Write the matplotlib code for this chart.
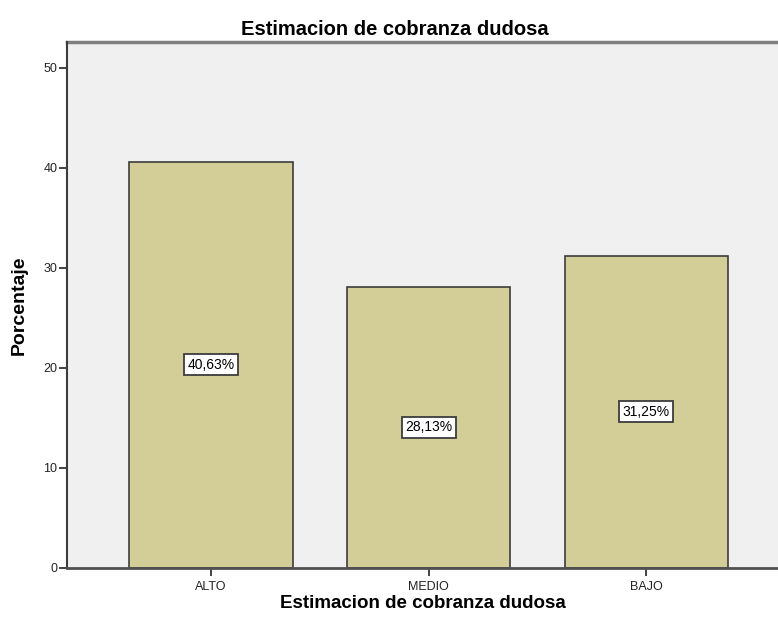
import matplotlib.pyplot as plt

plt.rcParams['font.family'] = ['Liberation Sans', 'DejaVu Sans']

categorias = ['ALTO', 'MEDIO', 'BAJO']
porcentajes = [40.63, 28.13, 31.25]
etiquetas = ['40,63%', '28,13%', '31,25%']

fig = plt.figure(figsize=(7.78, 6.24), dpi=100)
ax = fig.add_axes([67 / 778, 56 / 624, 1 - 67 / 778, (568 - 42) / 624])
ax.set_facecolor('#f0f0f0')

x = range(len(categorias))
ax.bar(x, porcentajes, width=0.75, color='#d3ce97', edgecolor='#3c3c3c', linewidth=1.2, zorder=2)

# etiquetas de porcentaje en el centro de cada barra
for i, v in enumerate(porcentajes):
    ax.text(i, v / 2, etiquetas[i], ha='center', va='center', fontsize=10, zorder=3,
            bbox=dict(boxstyle='square,pad=0.25', facecolor='white', edgecolor='#3c3c3c', linewidth=1.3))

ax.set_xlim(-0.662, 2.605)
ax.set_ylim(0, 52.6)
ax.set_yticks([0, 10, 20, 30, 40, 50])
ax.set_xticks(list(x))
ax.set_xticklabels(categorias)
ax.tick_params(axis='both', labelsize=9, colors='#222222', width=1.2, length=6)
ax.tick_params(axis='y', pad=1)

for lado in ['top', 'right']:
    ax.spines[lado].set_visible(False)
ax.spines['left'].set_color('#3c3c3c')
ax.spines['left'].set_linewidth(1.5)
ax.spines['bottom'].set_color('#505050')
ax.spines['bottom'].set_linewidth(2)
ax.axhline(52.6, color='#808080', linewidth=2.5, clip_on=False)

ax.set_title('Estimacion de cobranza dudosa', fontsize=14.5, fontweight='bold', pad=5, x=0.461)
ax.set_xlabel('Estimacion de cobranza dudosa', fontsize=13.5, fontweight='bold', labelpad=1)
ax.set_ylabel('Porcentaje', fontsize=14, fontweight='bold')
ax.yaxis.set_label_coords(-0.055, 0.5)

fig.savefig('out.png', dpi=100)
